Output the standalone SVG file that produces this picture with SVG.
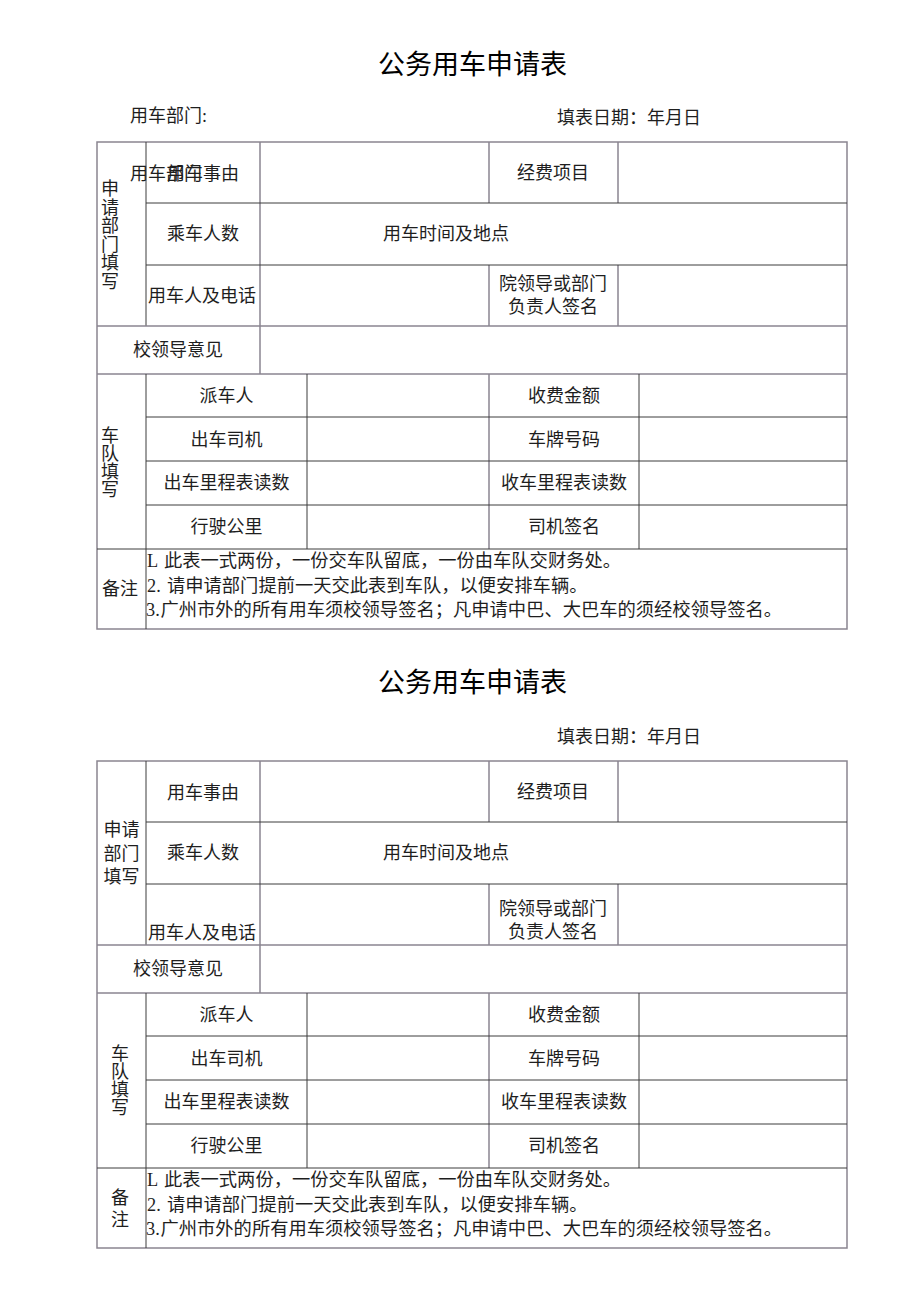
<svg xmlns="http://www.w3.org/2000/svg" width="920" height="1301" viewBox="0 0 920 1301">
<style>
text{font-family:"Liberation Serif","Noto Sans CJK SC",serif;fill:#1e1e1e;font-size:18px;dominant-baseline:central}
.c{text-anchor:middle}
.t{font-size:27px;fill:#000}
.n{font-size:18.3px}
.g{stroke:#8a8590;stroke-width:1.5;fill:none}
.d{stroke:#3c3c3c;stroke-width:1;fill:none}
</style>
<rect width="920" height="1301" fill="#fff"/>

<!-- ===== Form 1 ===== -->
<g id="form1">
<text class="t c" x="472.5" y="65">公务用车申请表</text>
<text x="130" y="116">用车部门:</text>
<text x="557" y="118">填表日期：年月日</text>

<g id="grid1">
<rect class="g" x="97" y="142" width="750" height="487"/>
<line class="d" x1="146" y1="142" x2="146" y2="326"/>
<line class="g" x1="260" y1="142" x2="260" y2="374"/>
<line class="g" x1="489" y1="142" x2="489" y2="203"/>
<line class="g" x1="618" y1="142" x2="618" y2="203"/>
<line class="g" x1="489" y1="265" x2="489" y2="326"/>
<line class="g" x1="618" y1="265" x2="618" y2="326"/>
<line class="d" x1="146" y1="203" x2="847" y2="203"/>
<line class="d" x1="146" y1="265" x2="847" y2="265"/>
<line class="g" x1="97" y1="326" x2="847" y2="326"/>
<line class="g" x1="97" y1="374" x2="847" y2="374"/>
<line class="d" x1="146" y1="374" x2="146" y2="629"/>
<line class="d" x1="307" y1="374" x2="307" y2="549"/>
<line class="g" x1="489" y1="374" x2="489" y2="549"/>
<line class="d" x1="639" y1="374" x2="639" y2="549"/>
<line class="d" x1="146" y1="417" x2="847" y2="417"/>
<line class="d" x1="146" y1="461" x2="847" y2="461"/>
<line class="d" x1="146" y1="505" x2="847" y2="505"/>
<line class="d" x1="97" y1="549" x2="847" y2="549"/>
</g>

<g id="apply1">
<text class="c" x="110" y="189">申</text>
<text class="c" x="110" y="207.5">请</text>
<text class="c" x="110" y="226">部</text>
<text class="c" x="110" y="244.5">门</text>
<text class="c" x="110" y="263">填</text>
<text class="c" x="110" y="281.5">写</text>
<text x="130" y="174">用车部门</text>
<text class="c" x="203" y="174">用车事由</text>
<text class="c" x="553" y="173">经费项目</text>
<text class="c" x="203" y="234">乘车人数</text>
<text x="383" y="234">用车时间及地点</text>
<text x="148" y="296">用车人及电话</text>
<text class="c" x="553" y="284">院领导或部门</text>
<text class="c" x="553" y="307">负责人签名</text>
<text class="c" x="178" y="350">校领导意见</text>
</g>

<g id="fleet1">
<text class="c" x="110" y="436">车</text>
<text class="c" x="110" y="454">队</text>
<text class="c" x="110" y="472">填</text>
<text class="c" x="110" y="490">写</text>
<text class="c" x="226.5" y="396">派车人</text>
<text class="c" x="226.5" y="440">出车司机</text>
<text class="c" x="226.5" y="483">出车里程表读数</text>
<text class="c" x="226.5" y="527">行驶公里</text>
<text class="c" x="564" y="396">收费金额</text>
<text class="c" x="564" y="440">车牌号码</text>
<text class="c" x="564" y="483">收车里程表读数</text>
<text class="c" x="564" y="527">司机签名</text>
</g>

<g id="notes1">
<text class="c" x="120" y="589">备注</text>
<text class="n" x="147" y="561">L<tspan x="164">此表一式两份，一份交车队留底，一份由车队交财务处。</tspan></text>
<text class="n" x="147" y="586">2.<tspan x="167">请申请部门提前一天交此表到车队，以便安排车辆。</tspan></text>
<text class="n" x="146" y="610">3.<tspan x="160.5">广州市外的所有用车须校领导签名；凡申请中巴、大巴车的须经校领导签名。</tspan></text>
</g>
</g>

<!-- ===== Form 2 ===== -->
<g id="form2">
<text class="t c" x="472.5" y="683">公务用车申请表</text>
<text x="557" y="737">填表日期：年月日</text>

<g id="grid2">
<rect class="g" x="97" y="761" width="750" height="487"/>
<line class="d" x1="146" y1="761" x2="146" y2="945"/>
<line class="g" x1="260" y1="761" x2="260" y2="993"/>
<line class="g" x1="489" y1="761" x2="489" y2="822"/>
<line class="g" x1="618" y1="761" x2="618" y2="822"/>
<line class="g" x1="489" y1="884" x2="489" y2="945"/>
<line class="g" x1="618" y1="884" x2="618" y2="945"/>
<line class="d" x1="146" y1="822" x2="847" y2="822"/>
<line class="d" x1="146" y1="884" x2="847" y2="884"/>
<line class="g" x1="97" y1="945" x2="847" y2="945"/>
<line class="g" x1="97" y1="993" x2="847" y2="993"/>
<line class="d" x1="146" y1="993" x2="146" y2="1248"/>
<line class="d" x1="307" y1="993" x2="307" y2="1168"/>
<line class="g" x1="489" y1="993" x2="489" y2="1168"/>
<line class="d" x1="639" y1="993" x2="639" y2="1168"/>
<line class="d" x1="146" y1="1036" x2="847" y2="1036"/>
<line class="d" x1="146" y1="1080" x2="847" y2="1080"/>
<line class="d" x1="146" y1="1124" x2="847" y2="1124"/>
<line class="d" x1="97" y1="1168" x2="847" y2="1168"/>
</g>

<g id="apply2">
<text class="c" x="121.5" y="830">申请</text>
<text class="c" x="121.5" y="854">部门</text>
<text class="c" x="121.5" y="877">填写</text>
<text class="c" x="203" y="793">用车事由</text>
<text class="c" x="553" y="792">经费项目</text>
<text class="c" x="203" y="853">乘车人数</text>
<text x="383" y="853">用车时间及地点</text>
<text x="148" y="933">用车人及电话</text>
<text class="c" x="553" y="909">院领导或部门</text>
<text class="c" x="553" y="932">负责人签名</text>
<text class="c" x="178" y="969">校领导意见</text>
</g>

<g id="fleet2">
<text class="c" x="120" y="1054">车</text>
<text class="c" x="120" y="1072">队</text>
<text class="c" x="120" y="1090">填</text>
<text class="c" x="120" y="1108">写</text>
<text class="c" x="226.5" y="1015">派车人</text>
<text class="c" x="226.5" y="1059">出车司机</text>
<text class="c" x="226.5" y="1102">出车里程表读数</text>
<text class="c" x="226.5" y="1146">行驶公里</text>
<text class="c" x="564" y="1015">收费金额</text>
<text class="c" x="564" y="1059">车牌号码</text>
<text class="c" x="564" y="1102">收车里程表读数</text>
<text class="c" x="564" y="1146">司机签名</text>
</g>

<g id="notes2">
<text class="c" x="120" y="1198">备</text>
<text class="c" x="120" y="1220">注</text>
<text class="n" x="147" y="1180">L<tspan x="164">此表一式两份，一份交车队留底，一份由车队交财务处。</tspan></text>
<text class="n" x="147" y="1205">2.<tspan x="167">请申请部门提前一天交此表到车队，以便安排车辆。</tspan></text>
<text class="n" x="146" y="1229">3.<tspan x="160.5">广州市外的所有用车须校领导签名；凡申请中巴、大巴车的须经校领导签名。</tspan></text>
</g>
</g>
</svg>
